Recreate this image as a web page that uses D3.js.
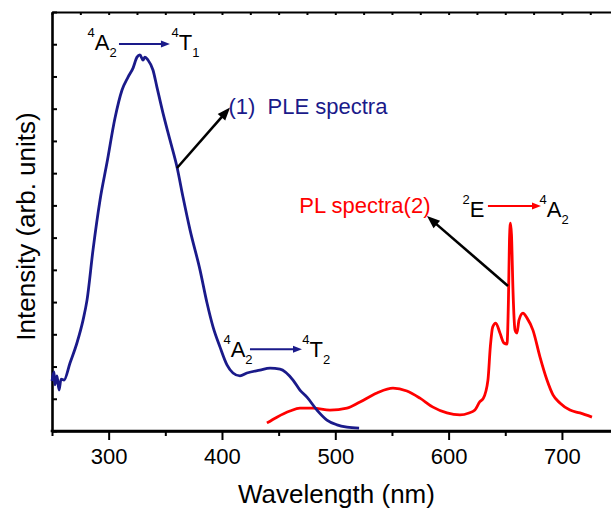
<!DOCTYPE html>
<html>
<head>
<meta charset="utf-8">
<script src="https://cdn.jsdelivr.net/npm/d3@7"></script>
<style>
  html, body { margin: 0; padding: 0; background: #fff; }
  svg { display: block; }
  text { font-family: "Liberation Sans", Arial, Helvetica, sans-serif; }
</style>
</head>
<body>
<svg id="chart" width="611" height="511"></svg>
<script>
// ---------- data ----------
const pleWavelength = [250, 251.8, 252.6, 254.4, 256.2, 258, 260.6, 265.9, 272, 277.4, 280.9, 286.2, 292.4, 298.5, 305.6, 311.8, 317.1, 321.5, 325, 327.6, 330.3, 332, 334.7, 339.1, 342.6, 347.9, 354.1, 360.3, 365.6, 371.8, 380.6, 386.8, 392.1, 398.2, 404.4, 409.7, 415.9, 422, 433.5, 442.4, 451.2, 462.7, 468.8, 475, 483.8, 492.6, 501.5, 510.3, 521];
const pleIntensity  = [1.55, 1.83, 1.43, 1.71, 1.27, 1.61, 1.58, 2.11, 2.73, 3.44, 4.06, 5.62, 7.17, 8.32, 9.71, 10.58, 10.98, 11.26, 11.60, 11.67, 11.51, 11.60, 11.51, 11.20, 10.67, 9.87, 9.03, 8.19, 7.26, 6.24, 5.00, 3.97, 3.23, 2.61, 2.05, 1.80, 1.71, 1.80, 1.89, 1.95, 1.92, 1.58, 1.27, 1.05, 0.65, 0.34, 0.19, 0.12, 0.09];

const plWavelength = [439.7, 448.5, 460, 468.8, 480.3, 495.3, 510.3, 521.8, 536.8, 550.9, 563.2, 574.7, 586.2, 598.5, 610, 618, 623.2, 627.6, 630.6, 634.7, 636.8, 638.9, 641.6, 645.3, 648.8, 651.5, 652.8, 653.7, 654.6, 655.5, 656.8, 658.6, 660.3, 662.1, 665.6, 669.1, 674.4, 680.6, 686.8, 692.1, 698.2, 707.1, 715.9, 726.5];
const plIntensity  = [0.25, 0.43, 0.62, 0.71, 0.71, 0.65, 0.71, 0.90, 1.18, 1.33, 1.24, 1.02, 0.74, 0.56, 0.50, 0.56, 0.65, 0.91, 1.01, 1.58, 2.61, 3.23, 3.35, 3.04, 2.73, 2.70, 4.07, 5.93, 6.45, 6.08, 4.37, 3.13, 3.04, 3.44, 3.66, 3.51, 3.13, 2.30, 1.58, 1.12, 0.87, 0.65, 0.56, 0.43];

const xMajorTicks = [300, 400, 500, 600, 700];
const xMinorTicks = [250, 350, 450, 550, 650];
const xTopTicks = d3.range(250, 741, 25);
const yTicks = d3.range(0, 14, 1);

const xTitle = "Wavelength (nm)";
const yTitle = "Intensity (arb. units)";
const pleLabel = "(1)\u00a0 PLE spectra";
const plLabel = "PL spectra(2)";

// transition labels: [text parts], anchor position in data coords (wavelength, intensity)
const transLeftParts  = [[["4","sup"],["A"],["2","sub"]], [["4","sup"],["A"],["2","sub"]], [["2","sup"],["E"]]];
const transRightParts = [[["4","sup"],["T"],["1","sub"]], [["4","sup"],["T"],["2","sub"]], [["4","sup"],["A"],["2","sub"]]];
const transLeftWl   = [281.3, 401.3, 612.2];
const transRightWl  = [355.4, 470.8, 680.2];
const transBaseV    = [11.82, 2.30, 6.64];
const transArrowFromWl = [309.1, 424.7, 634.7];
const transArrowToWl   = [354.1, 470.6, 681.5];
const transArrowV      = [12.01, 2.54, 6.98];

// label positions (data coords)
const pleLabelPos = [405.7, 9.84];
const plLabelPos  = [468.2, 6.75];
// black pointer arrows: [fromWl, fromV, toWl, toV]
const pointerArrows = [[360.3, 8.16, 407.1, 10.04], [652.4, 4.50, 580.9, 6.67]];
const xTitleWl = 501;

// ---------- layout ----------
const navy = "#1a1a8a";
const red = "#ff0000";
const margin = {left: 52, top: 12, bottom: 80};
const W = 611, H = 511;
const svg = d3.select("#chart");

const x = d3.scaleLinear().domain([250, 743.3]).range([margin.left, W]);
const y = d3.scaleLinear().domain([0, 13]).range([H - margin.bottom, margin.top]);

// ---------- axes ----------
const axisG = svg.append("g");
const bottomY = y(0);

const bMaj = axisG.append("g").attr("transform", `translate(0,${bottomY})`)
  .call(d3.axisBottom(x).tickValues(xMajorTicks).tickSize(9).tickSizeOuter(0).tickPadding(8).tickFormat(d3.format("d")));
const bMin = axisG.append("g").attr("transform", `translate(0,${bottomY})`)
  .call(d3.axisBottom(x).tickValues(xMinorTicks).tickSize(5).tickSizeOuter(0).tickFormat(""));
const tAx = axisG.append("g").attr("transform", `translate(0,${y(13)})`)
  .call(d3.axisTop(x).tickValues(xTopTicks).tickSize(-3).tickSizeOuter(0).tickFormat(""));
const lAx = axisG.append("g").attr("transform", `translate(${x(250)},0)`)
  .call(d3.axisLeft(y).tickValues(yTicks).tickSize(-5).tickSizeOuter(0).tickFormat(""));

axisG.selectAll(".domain").attr("stroke", "#000").attr("stroke-width", 2.2);
axisG.selectAll(".tick line").attr("stroke", "#000").attr("stroke-width", 2);
bMaj.selectAll(".tick text").attr("font-size", 22).attr("fill", "#000")
  .attr("font-family", '"Liberation Sans", Arial, sans-serif');
lAx.select(".domain").attr("stroke-width", 2.6);
axisG.append("line").attr("x1", x(250) - 1.3).attr("x2", W).attr("y1", bottomY).attr("y2", bottomY)
  .attr("stroke", "#000").attr("stroke-width", 2.4);

// axis titles
svg.append("text").attr("x", x(xTitleWl)).attr("y", 503)
  .attr("text-anchor", "middle").attr("font-size", 26).attr("fill", "#000").text(xTitle);
svg.append("text").attr("transform", `translate(35,${(y(13) + y(0)) / 2 + 5}) rotate(-90)`)
  .attr("text-anchor", "middle").attr("font-size", 26).attr("fill", "#000").text(yTitle);

// ---------- curves ----------
const line = d3.line().x(d => x(d[0])).y(d => y(d[1])).curve(d3.curveMonotoneX);
const pleData = pleWavelength.map((w, i) => [w, pleIntensity[i]]);
const plData = plWavelength.map((w, i) => [w, plIntensity[i]]);

svg.append("path").datum(plData).attr("d", line).attr("fill", "none")
  .attr("stroke", red).attr("stroke-width", 2.8).attr("stroke-linejoin", "round");
svg.append("path").datum(pleData).attr("d", line).attr("fill", "none")
  .attr("stroke", navy).attr("stroke-width", 2.8).attr("stroke-linejoin", "round");

// ---------- arrows ----------
function arrow(x1, y1, x2, y2, color, width, headLen, headW) {
  const dx = x2 - x1, dy = y2 - y1, L = Math.hypot(dx, dy);
  const ux = dx / L, uy = dy / L;
  const bx = x2 - ux * headLen, by = y2 - uy * headLen;
  svg.append("line").attr("x1", x1).attr("y1", y1)
    .attr("x2", x2 - ux * headLen * 0.6).attr("y2", y2 - uy * headLen * 0.6)
    .attr("stroke", color).attr("stroke-width", width);
  const px = -uy * headW / 2, py = ux * headW / 2;
  svg.append("path")
    .attr("d", `M${x2},${y2}L${bx + px},${by + py}L${bx - px},${by - py}Z`)
    .attr("fill", color);
}

pointerArrows.forEach(a => arrow(x(a[0]), y(a[1]), x(a[2]), y(a[3]), "#000", 2.6, 13, 10));

const transArrowColors = [navy, navy, red];
transArrowFromWl.forEach((w, i) => {
  arrow(x(w), y(transArrowV[i]), x(transArrowToWl[i]), y(transArrowV[i]), transArrowColors[i], 2, 9, 7);
});

// ---------- transition labels ----------
function stateLabel(parts, px, py) {
  const t = svg.append("text").attr("x", px).attr("y", py).attr("fill", "#000").attr("font-size", 22);
  let shift = 0;
  parts.forEach(p => {
    const kind = p[1];
    let target = 0, fs = 22;
    if (kind === "sup") { target = -13; fs = 13; }
    else if (kind === "sub") { target = 7; fs = 13; }
    t.append("tspan").attr("dy", target - shift).attr("font-size", fs).text(p[0]);
    shift = target;
  });
}
transLeftParts.forEach((parts, i) => stateLabel(parts, x(transLeftWl[i]), y(transBaseV[i])));
transRightParts.forEach((parts, i) => stateLabel(parts, x(transRightWl[i]), y(transBaseV[i])));

// ---------- spectra labels ----------
svg.append("text").attr("x", x(pleLabelPos[0])).attr("y", y(pleLabelPos[1]))
  .attr("font-size", 22).attr("fill", navy).text(pleLabel);
svg.append("text").attr("x", x(plLabelPos[0])).attr("y", y(plLabelPos[1]))
  .attr("font-size", 22).attr("fill", red).text(plLabel);
</script>
</body>
</html>
